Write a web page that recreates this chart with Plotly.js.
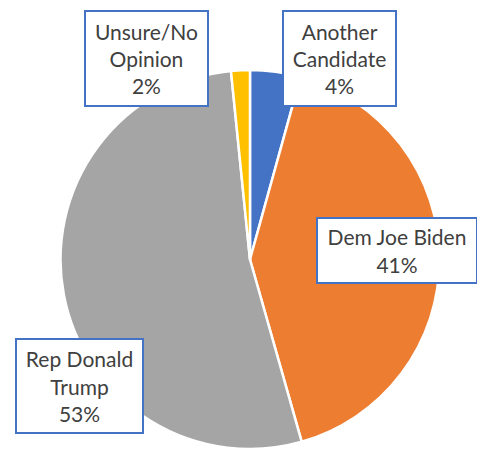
<!DOCTYPE html>
<html>
<head>
<meta charset="utf-8">
<script src="https://cdn.plot.ly/plotly-3.0.1.min.js"></script>
<style>html,body{margin:0;padding:0;background:#fff;}#chart{width:477px;height:449px;}</style>
</head>
<body>
<div id="chart"></div>
<script>
const categories = ["Another Candidate", "Dem Joe Biden", "Rep Donald Trump", "Unsure/No Opinion"];
const values = [4.3, 41.3, 52.8, 1.6];
const labelText = ["Another<br>Candidate<br>4%", "Dem Joe Biden<br>41%", "Rep Donald<br>Trump<br>53%", "Unsure/No<br>Opinion<br>2%"];
const colors = ["#4472C4", "#ED7D31", "#A5A5A5", "#FFC000"];

// label box positions (paper px centers) and sizes
const boxes = [
  {cx: 339.5, cy: 58.5, w: 115, h: 97},
  {cx: 397, cy: 250, w: 162, h: 67},
  {cx: 79.5, cy: 386, w: 129, h: 96},
  {cx: 146.5, cy: 58.5, w: 125, h: 97}
];
const W = 477, H = 449;

const annotations = labelText.map((t, i) => ({
  xref: 'paper', yref: 'paper',
  x: boxes[i].cx / W, y: 1 - boxes[i].cy / H,
  xanchor: 'center', yanchor: 'middle',
  text: t, showarrow: false,
  font: {family: 'Lato, "Open Sans", sans-serif', size: 21, color: '#404040'},
  bgcolor: '#ffffff', bordercolor: '#4472C4', borderwidth: 2, borderpad: 0,
  width: boxes[i].w - 4, height: boxes[i].h - 4, align: 'center', valign: 'middle'
}));

const data = [{
  type: 'pie',
  labels: categories,
  values: values,
  sort: false,
  direction: 'clockwise',
  rotation: 0,
  textinfo: 'none',
  hoverinfo: 'label+percent',
  marker: {colors: colors, line: {color: '#ffffff', width: 2.5}},
  domain: {x: [0.1268, 0.9214], y: [0, 0.844]}
}];

const layout = {
  width: W, height: H,
  margin: {l: 0, r: 0, t: 0, b: 0},
  paper_bgcolor: '#ffffff',
  showlegend: false,
  annotations: annotations
};

Plotly.newPlot('chart', data, layout, {displayModeBar: false, staticPlot: true});
</script>
</body>
</html>
